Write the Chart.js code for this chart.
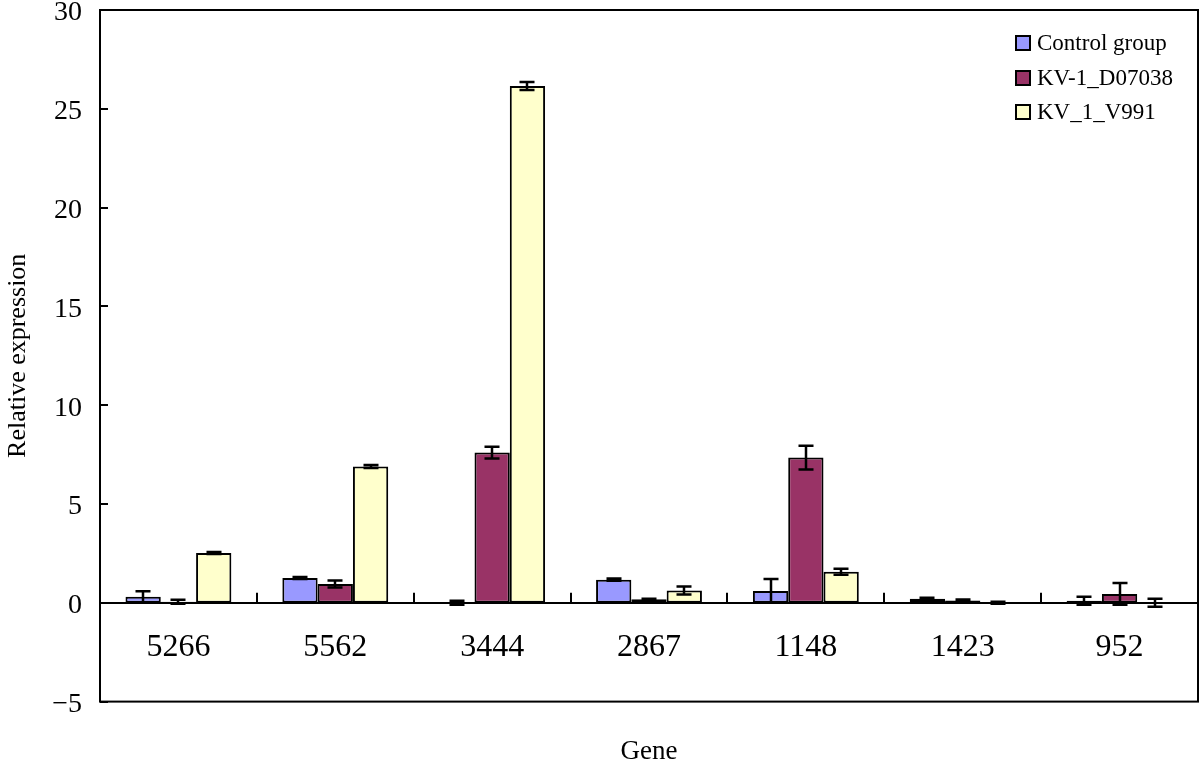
<!DOCTYPE html>
<html>
<head>
<meta charset="utf-8">
<script src="https://cdn.jsdelivr.net/npm/chart.js@4/dist/chart.umd.min.js"></script>
<style>
html,body{margin:0;padding:0;background:#fff;}
#wrap{width:1200px;height:776px;}
</style>
</head>
<body>
<div id="wrap"><canvas id="c" width="1200" height="776"></canvas></div>
<script>
const categories = ["5266", "5562", "3444", "2867", "1148", "1423", "952"];
const seriesNames = ["Control group", "KV-1_D07038", "KV_1_V991"];
const controlValues = [0.3, 1.25, 0.0, 1.17, 0.6, 0.2, 0.1];
const controlErrors = [0.28, 0.05, 0.1, 0.06, 0.6, 0.06, 0.2];
const d07038Values = [0.05, 0.95, 7.6, 0.18, 7.35, 0.12, 0.45];
const d07038Errors = [0.1, 0.18, 0.3, 0.02, 0.6, 0.05, 0.55];
const v991Values = [2.52, 6.9, 26.15, 0.62, 1.57, 0.0, 0.0];
const v991Errors = [0.05, 0.08, 0.2, 0.2, 0.15, 0.05, 0.2];
const yTicks = [-5, 0, 5, 10, 15, 20, 25, 30];
const xTitle = "Gene";
const yTitle = "Relative expression";

const FONT = "'Liberation Serif', 'Times New Roman', serif";
const colors = ["#9999FF", "#993366", "#FFFFCC"];
const errs = [controlErrors, d07038Errors, v991Errors];

const framePlugin = {
  id: 'frame',
  afterDraw(chart) {
    const ctx = chart.ctx, a = chart.chartArea;
    const y = chart.scales.y, x = chart.scales.x;
    ctx.save();
    ctx.strokeStyle = '#000';
    ctx.lineWidth = 2;
    ctx.strokeRect(a.left, a.top, a.right - a.left, a.bottom - a.top);
    // inward y ticks
    yTicks.forEach(v => {
      const py = Math.round(y.getPixelForValue(v));
      ctx.beginPath(); ctx.moveTo(a.left, py); ctx.lineTo(a.left + 8, py); ctx.stroke();
    });
    // category boundary ticks upward from zero line
    const y0 = y.getPixelForValue(0);
    for (let i = 0; i < categories.length - 1; i++) {
      const px = Math.round((x.getPixelForValue(i) + x.getPixelForValue(i + 1)) / 2);
      ctx.beginPath(); ctx.moveTo(px, y0); ctx.lineTo(px, y0 - 10); ctx.stroke();
    }
    // legend
    ctx.font = "23px " + FONT;
    ctx.textBaseline = 'middle';
    ctx.textAlign = 'left';
    const lx = 1016, ly = [43, 78, 112];
    chart.data.datasets.forEach((ds, i) => {
      ctx.fillStyle = ds.backgroundColor;
      ctx.fillRect(lx, ly[i] - 7, 14, 14);
      ctx.lineWidth = 2;
      ctx.strokeStyle = '#000';
      ctx.strokeRect(lx, ly[i] - 7, 14, 14);
      ctx.fillStyle = '#000';
      ctx.fillText(ds.label, lx + 21, ly[i] + 1);
    });
    ctx.restore();
  },
  afterDatasetsDraw(chart) {
    const ctx = chart.ctx, y = chart.scales.y;
    ctx.save();
    ctx.strokeStyle = '#000';
    ctx.lineWidth = 2.5;
    chart.data.datasets.forEach((ds, di) => {
      const meta = chart.getDatasetMeta(di);
      meta.data.forEach((bar, i) => {
        const v = ds.data[i], e = errs[di][i];
        const px = Math.round(bar.x);
        const top = y.getPixelForValue(v + e), bot = y.getPixelForValue(v - e);
        const cap = 7.5;
        ctx.beginPath();
        ctx.moveTo(px, top); ctx.lineTo(px, bot);
        ctx.moveTo(px - cap, top); ctx.lineTo(px + cap, top);
        ctx.moveTo(px - cap, bot); ctx.lineTo(px + cap, bot);
        ctx.stroke();
      });
    });
    ctx.restore();
  }
};

new Chart(document.getElementById('c'), {
  type: 'bar',
  data: {
    labels: categories,
    datasets: [
      { label: seriesNames[0], data: controlValues, backgroundColor: colors[0] },
      { label: seriesNames[1], data: d07038Values, backgroundColor: colors[1] },
      { label: seriesNames[2], data: v991Values, backgroundColor: colors[2] }
    ].map(d => Object.assign(d, { borderColor: '#000', borderWidth: 2, borderSkipped: false, categoryPercentage: 0.675, barPercentage: 1.0 }))
  },
  options: {
    responsive: false,
    animation: false,
    devicePixelRatio: 1,
    layout: { padding: { top: 10, right: 2, left: 0, bottom: 0 } },
    plugins: {
      legend: { display: false },
      tooltip: { enabled: false },
      title: { display: false }
    },
    scales: {
      x: {
        position: { y: 0 },
        grid: { display: false, drawTicks: false },
        border: { display: true, color: '#000', width: 2 },
        ticks: { color: '#000', padding: 26, font: { family: FONT, size: 32 } }
      },
      x2: {
        type: 'category',
        labels: categories,
        position: 'bottom',
        grid: { display: false, drawTicks: false },
        border: { display: false },
        ticks: { display: false },
        title: { display: true, text: xTitle, color: '#000', font: { family: FONT, size: 27 }, padding: { top: 34, bottom: 8 } }
      },
      y: {
        min: -5, max: 30,
        afterFit(s) { s.width = 100; s.paddingTop = 0; s.paddingBottom = 0; },
        afterBuildTicks(s) { s.ticks = yTicks.map(v => ({ value: v })); },
        grid: { display: false, drawTicks: false },
        border: { display: true, color: '#000', width: 2 },
        ticks: {
          color: '#000', padding: 18, labelOffset: 3, font: { family: FONT, size: 28 },
          callback: v => (v < 0 ? '\u2212' + Math.abs(v) : String(v))
        },
        title: { display: true, text: yTitle, color: '#000', font: { family: FONT, size: 26 }, padding: { top: 3, bottom: 8 } }
      }
    }
  },
  plugins: [framePlugin]
});
</script>
</body>
</html>
